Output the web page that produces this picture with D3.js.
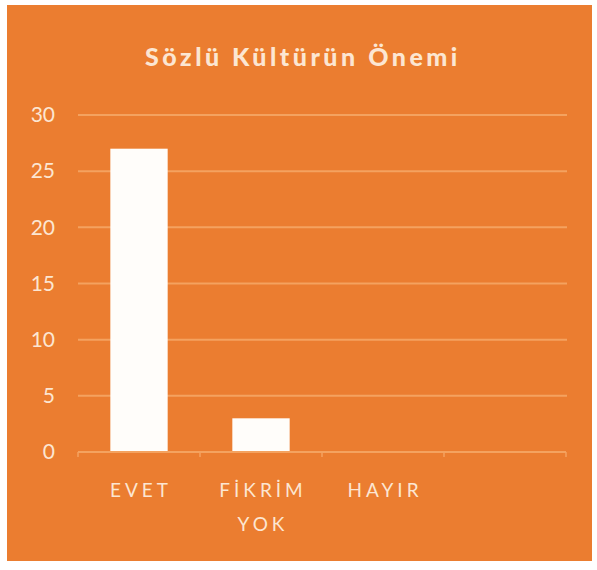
<!DOCTYPE html>
<html>
<head>
<meta charset="utf-8">
<script src="https://cdn.jsdelivr.net/npm/d3@7"></script>
<style>
  html, body { margin: 0; padding: 0; background: #ffffff; }
  svg { display: block; }
</style>
</head>
<body>
<svg id="chart" width="597" height="570"></svg>
<script>
// Survey answers and their counts
const categories = ["EVET", "FİKRİM YOK", "HAYIR", ""];
const values = [27, 3, 0, null];
const yTicks = [0, 5, 10, 15, 20, 25, 30];
const title = "Sözlü Kültürün Önemi";

const W = 597, H = 570;
const svg = d3.select("#chart");

const orange = "#EB7D30";
const grid = "#F4A25F";
const textCol = "#FCE6D2";

// Card background
svg.append("rect")
  .attr("x", 7).attr("y", 5)
  .attr("width", 585).attr("height", 556)
  .attr("fill", orange);

const plot = { left: 78, right: 566, top: 115, bottom: 452 };

const x = d3.scaleBand()
  .domain(d3.range(categories.length))
  .range([plot.left, plot.right])
  .paddingInner(0.53)
  .paddingOuter(0.265);

const y = d3.scaleLinear()
  .domain([0, 30])
  .range([plot.bottom, plot.top]);

// Title
svg.append("text")
  .attr("x", 303).attr("y", 66)
  .attr("text-anchor", "middle")
  .attr("fill", textCol)
  .style("font-family", "Lato, 'Open Sans', sans-serif")
  .style("font-weight", "900")
  .style("font-size", "25px")
  .style("letter-spacing", "3.5px")
  .text(title);

// Horizontal gridlines
svg.append("g")
  .selectAll("line")
  .data(yTicks.filter(t => t > 0))
  .join("line")
  .attr("x1", plot.left).attr("x2", plot.right + 1)
  .attr("y1", d => y(d)).attr("y2", d => y(d))
  .attr("stroke", grid)
  .attr("stroke-width", 2);

// Y axis labels
const yAxis = d3.axisLeft(y).tickValues(yTicks).tickSize(0).tickPadding(23);
const gy = svg.append("g")
  .attr("transform", `translate(${plot.left},0)`)
  .call(yAxis);
gy.select(".domain").remove();
gy.selectAll("text")
  .attr("fill", textCol)
  .style("font-family", "Lato, 'Open Sans', sans-serif")
  .style("font-size", "21px");

// Bars
svg.append("g")
  .selectAll("rect")
  .data(values.map((v, i) => ({ v, i })).filter(d => d.v != null && d.v > 0))
  .join("rect")
  .attr("x", d => x(d.i))
  .attr("width", x.bandwidth())
  .attr("y", d => y(d.v))
  .attr("height", d => y(0) - y(d.v))
  .attr("fill", "#FFFDFA");

// X axis: baseline and boundary ticks between categories
const step = x.step();
const gx = svg.append("g");
gx.append("line")
  .attr("x1", plot.left).attr("x2", plot.right)
  .attr("y1", y(0)).attr("y2", y(0))
  .attr("stroke", grid).attr("stroke-width", 2);
gx.selectAll("line.tk")
  .data(d3.range(categories.length + 1))
  .join("line")
  .attr("class", "tk")
  .attr("x1", i => plot.left + i * step)
  .attr("x2", i => plot.left + i * step)
  .attr("y1", y(0)).attr("y2", y(0) + 5)
  .attr("stroke", grid).attr("stroke-width", 1.5);

// Category labels (wrapped onto separate lines)
const labels = svg.append("g")
  .selectAll("text")
  .data(categories.map((c, i) => ({ c, i })).filter(d => d.c))
  .join("text")
  .attr("text-anchor", "middle")
  .attr("fill", textCol)
  .style("font-family", "Lato, 'Open Sans', sans-serif")
  .style("font-size", "19px")
  .style("letter-spacing", "4px");
labels.each(function(d) {
  const words = d.c.split(" ");
  const cx = x(d.i) + x.bandwidth() / 2 + 2;
  d3.select(this).selectAll("tspan")
    .data(words)
    .join("tspan")
    .attr("x", cx)
    .attr("y", (w, k) => 497 + k * 34)
    .text(w => w);
});
</script>
</body>
</html>
